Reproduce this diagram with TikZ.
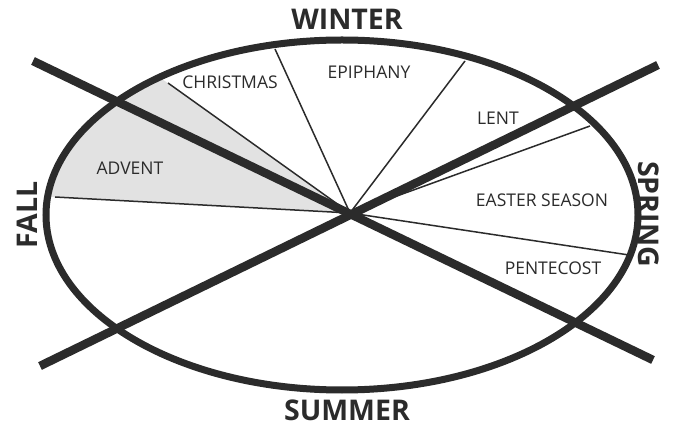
\documentclass[tikz,border=0pt]{standalone}
\usepackage{fontspec}
\setmainfont{Open Sans}
\definecolor{ink}{HTML}{2B2B2B}
\definecolor{advgray}{HTML}{E2E2E2}
\begin{document}
\begin{tikzpicture}[x=1pt,y=-1pt,
  crossline/.style={line width=8.5pt, draw=ink},
  rim/.style={line width=7pt, draw=ink},
  divider/.style={line width=1.5pt, draw=ink},
  lbl/.style={font=\fontsize{17.5}{18}\selectfont, text=ink, inner sep=0pt},
  season/.style={font=\bfseries\fontsize{28.5}{30}\selectfont, text=ink, inner sep=0pt, anchor=base}]
\useasboundingbox (0,0) rectangle (677,427);
\fill[white] (0,0) rectangle (677,427);
\coordinate (hub) at (350,213);
\coordinate (ec) at (342,215);
% divider end points on the ellipse
\coordinate (fallend) at (55,197);
\coordinate (xmasend) at (168,83);
\coordinate (epiend) at (275,49);
\coordinate (lentend) at (465,61);
\coordinate (easterend) at (590,126);
\coordinate (pentend) at (629,255);
% crossing line ends
\coordinate (a1) at (33,61);
\coordinate (a2) at (653,360);
\coordinate (b1) at (40,366);
\coordinate (b2) at (658,65);
% Advent shading
\begin{scope}
  \clip (ec) ellipse [x radius=296, y radius=175];
  \fill[advgray] (hub) -- (fallend) -- (0,194) -- (0,18) -- (77,18.5) -- cycle;
\end{scope}
% dividers
\foreach \p in {fallend,xmasend,epiend,lentend,easterend,pentend}
  \draw[divider] (hub) -- (\p);
% ellipse
\draw[rim] (ec) ellipse [x radius=296, y radius=175];
% crossing lines
\draw[crossline] (a1) -- (a2);
\draw[crossline] (b1) -- (b2);
% labels
\node[lbl] (christmas) at (230,82) {CHRISTMAS};
\node[lbl] (epiphany) at (369,72) {EPIPHANY};
\node[lbl] (lent) at (498,118) {LENT};
\node[lbl] (easter) at (542,200) {EASTER SEASON};
\node[lbl] (pentecost) at (553,268) {PENTECOST};
\node[lbl] (advent) at (130,168) {ADVENT};
% seasons
\node[season] (winter) at (347,30) {WINTER};
\node[season] (summer) at (347,420) {SUMMER};
\node[season, rotate=90] (fall) at (37,215) {FALL};
\node[season, rotate=-90] (spring) at (638,214) {SPRING};
\end{tikzpicture}
\end{document}
